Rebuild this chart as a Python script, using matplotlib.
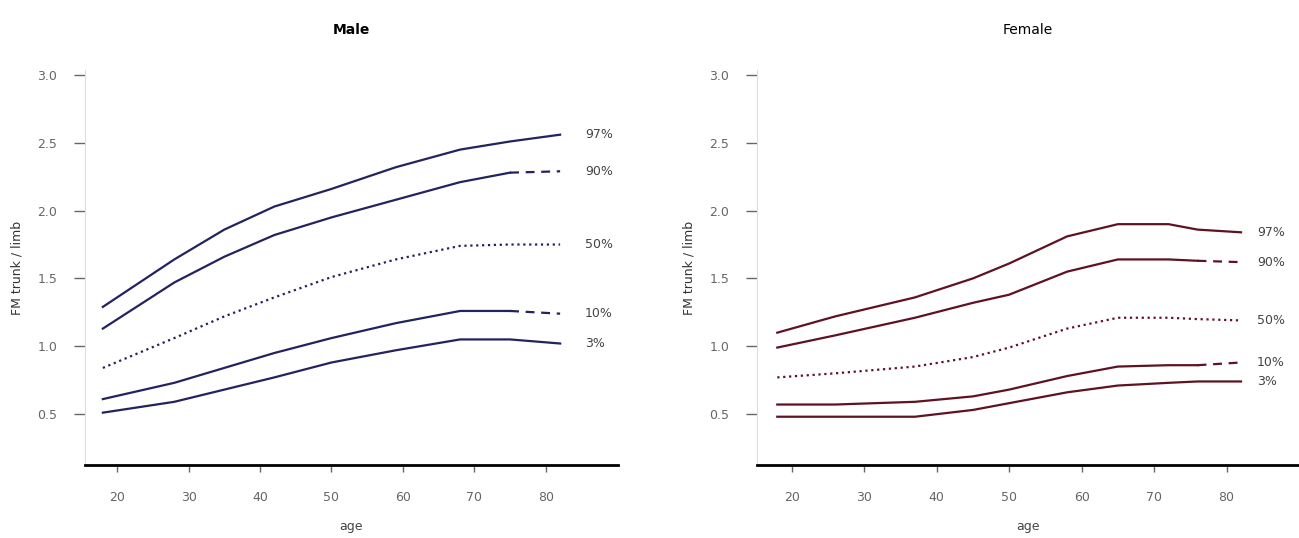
import matplotlib.pyplot as plt
import numpy as np

pct_labels = ['97%', '90%', '50%', '10%', '3%']

male_ages = [18, 28, 35, 42, 50, 59, 68, 75, 82]
male = {
    '97%': [1.29, 1.64, 1.86, 2.03, 2.16, 2.32, 2.45, 2.51, 2.56],
    '90%': [1.13, 1.47, 1.66, 1.82, 1.95, 2.08, 2.21, 2.28, 2.29],
    '50%': [0.84, 1.06, 1.22, 1.36, 1.51, 1.64, 1.74, 1.75, 1.75],
    '10%': [0.61, 0.73, 0.84, 0.95, 1.06, 1.17, 1.26, 1.26, 1.24],
    '3%':  [0.51, 0.59, 0.68, 0.77, 0.88, 0.97, 1.05, 1.05, 1.02],
}

# Female
female_ages = [18, 26, 37, 45, 50, 58, 65, 72, 76, 82]
female = {
    '97%': [1.10, 1.22, 1.36, 1.50, 1.61, 1.81, 1.90, 1.90, 1.86, 1.84],
    '90%': [0.99, 1.08, 1.21, 1.32, 1.38, 1.55, 1.64, 1.64, 1.63, 1.62],
    '50%': [0.77, 0.80, 0.85, 0.92, 0.99, 1.13, 1.21, 1.21, 1.20, 1.19],
    '10%': [0.57, 0.57, 0.59, 0.63, 0.68, 0.78, 0.85, 0.86, 0.86, 0.88],
    '3%':  [0.48, 0.48, 0.48, 0.53, 0.58, 0.66, 0.71, 0.73, 0.74, 0.74],
}

xticks = [20, 30, 40, 50, 60, 70, 80]
yticks = [0.5, 1.0, 1.5, 2.0, 2.5, 3.0]
ytick_labels = ['0.5', '1.0', '1.5', '2.0', '2.5', '3.0']

fig = plt.figure(figsize=(12.99, 5.38), dpi=100)
W, H = 1299, 538

panels = [
    ('Male', male_ages, male, '#23235e', 85, 618, (15.5, 90.1), 85.5, 'bold'),
    ('Female', female_ages, female, '#5e1222', 757, 1299, (15.2, 90.0), 84.2, 'normal'),
]

for title, ages, data, color, x0, x1, xlim, lab_x, weight in panels:
    ax = fig.add_axes([x0 / W, 1 - 465 / H, (x1 - x0) / W, (465 - 70) / H])
    n = len(ages)
    for p in pct_labels:
        y = data[p]
        if p == '50%':
            ax.plot(ages, y, color=color, lw=1.6, ls=':')
        elif p in ('90%', '10%'):
            # solid body with a dashed tail at the oldest ages
            ax.plot(ages[:n - 1], y[:n - 1], color=color, lw=1.6, ls='-')
            ax.plot(ages[n - 2:], y[n - 2:], color=color, lw=1.6, ls=(0, (4, 3)))
        else:
            ax.plot(ages, y, color=color, lw=1.6, ls='-')
        ax.text(lab_x, y[-1], p, fontsize=9, color='#444444',
                va='center', ha='left')
    ax.set_xlim(*xlim)
    ax.set_ylim(0.124, 3.037)
    ax.set_xticks(xticks)
    ax.set_yticks(yticks)
    ax.set_yticklabels(ytick_labels)
    ax.spines['top'].set_visible(False)
    ax.spines['right'].set_visible(False)
    ax.spines['left'].set_color('#dddddd')
    ax.spines['bottom'].set_linewidth(2)
    ax.spines['bottom'].set_color('black')
    ax.tick_params(axis='y', colors='#666666', labelsize=9, length=8, width=1, pad=12)
    ax.tick_params(axis='x', colors='#666666', labelsize=9, length=5, width=1, pad=14)
    ax.set_ylabel('FM trunk / limb', fontsize=9, color='#333333', labelpad=10)
    ax.set_xlabel('age', fontsize=9, color='#444444')
    ax.xaxis.set_label_coords(0.5, -0.14)
    ax.set_title(title, fontsize=10, fontweight=weight, pad=26)

fig.savefig('out.png', dpi=100)
